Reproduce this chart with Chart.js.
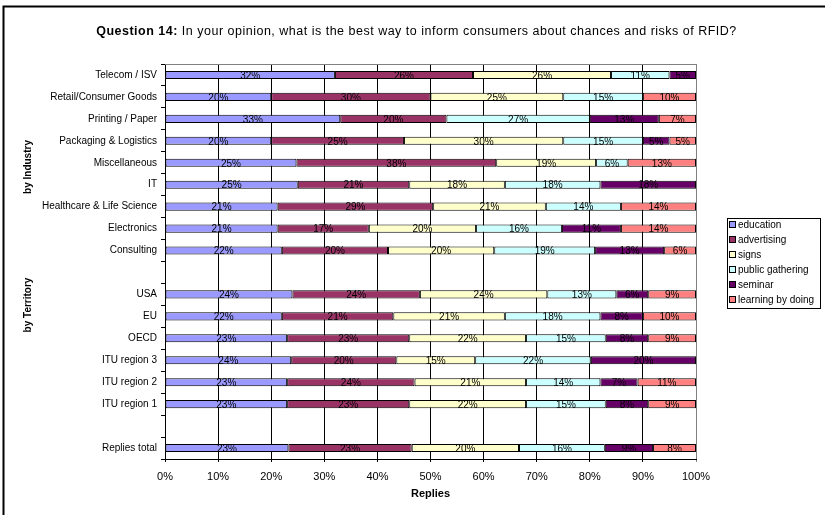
<!DOCTYPE html>
<html>
<head>
<meta charset="utf-8">
<script src="https://cdn.jsdelivr.net/npm/chart.js@4/dist/chart.umd.min.js"></script>
<style>
  html, body { margin: 0; padding: 0; background: #fff; }
  #wrap { position: relative; width: 825px; height: 515px; }
</style>
</head>
<body>
<div id="wrap"><canvas id="myChart" width="825" height="515"></canvas></div>
<script>
// rows, top to bottom ('' = empty spacer row)
var categories = ['Telecom / ISV', 'Retail/Consumer Goods', 'Printing / Paper', 'Packaging & Logistics',
    'Miscellaneous', 'IT', 'Healthcare & Life Science', 'Electronics', 'Consulting', '',
    'USA', 'EU', 'OECD', 'ITU region 3', 'ITU region 2', 'ITU region 1', '', 'Replies total'];

// share of replies in %, as printed on the bars
var education       = [32, 20, 33, 20, 25, 25, 21, 21, 22, null, 24, 22, 23, 24, 23, 23, null, 23];
var advertising     = [26, 30, 20, 25, 38, 21, 29, 17, 20, null, 24, 21, 23, 20, 24, 23, null, 23];
var signs           = [26, 25, 0, 30, 19, 18, 21, 20, 20, null, 24, 21, 22, 15, 21, 22, null, 20];
var publicGathering = [11, 15, 27, 15, 6, 18, 14, 16, 19, null, 13, 18, 15, 22, 14, 15, null, 16];
var seminar         = [5, 0, 13, 5, 0, 18, 0, 11, 13, null, 6, 8, 8, 20, 7, 8, null, 9];
var learningByDoing = [0, 10, 7, 5, 13, 0, 14, 14, 6, null, 9, 10, 9, 0, 11, 9, null, 8];

var seriesNames = ['education', 'advertising', 'signs', 'public gathering', 'seminar', 'learning by doing'];
var seriesColors = ['#9999FF', '#993366', '#FFFFCC', '#CCFFFF', '#660066', '#FF8080'];
var xTicks = [0, 10, 20, 30, 40, 50, 60, 70, 80, 90, 100];

var titleBold = 'Question 14:';
var titleText = ' In your opinion, what is the best way to inform consumers about chances and risks of RFID?';
var groupLabels = ['by Industry', 'by Territory'];
var xTitle = 'Replies';

var FONT = '"Liberation Sans", Arial, sans-serif';

var allSeries = [education, advertising, signs, publicGathering, seminar, learningByDoing];

// row totals, so every bar fills 100%
var totals = categories.map(function(c, i) {
    var s = 0;
    allSeries.forEach(function(arr) { if (arr[i]) s += arr[i]; });
    return s;
});

var dataSets = allSeries.map(function(arr, k) {
    return {
        label: seriesNames[k],
        data: arr.map(function(v, i) { return v ? v / totals[i] * 100 : null; }),
        pct: arr,
        backgroundColor: seriesColors[k],
        borderColor: '#000',
        borderWidth: 1,
        borderSkipped: false,
        barPercentage: 0.37,
        categoryPercentage: 1
    };
});

// percent text in the middle of every segment
var barLabels = {
    id: 'barLabels',
    afterDatasetsDraw: function(chart) {
        var ctx = chart.ctx;
        ctx.save();
        ctx.font = '10px ' + FONT;
        ctx.fillStyle = '#000';
        ctx.textAlign = 'center';
        ctx.textBaseline = 'middle';
        chart.data.datasets.forEach(function(ds, d) {
            var meta = chart.getDatasetMeta(d);
            meta.data.forEach(function(el, i) {
                if (!ds.pct[i]) return;
                ctx.fillText(ds.pct[i] + '%', (el.x + el.base) / 2, el.y + 1);
            });
        });
        ctx.restore();
    }
};

// frame, title, group labels, axis title and legend
var extras = {
    id: 'extras',
    beforeDraw: function(chart) {
        var ctx = chart.ctx;
        ctx.save();
        ctx.fillStyle = '#fff';
        ctx.fillRect(0, 0, chart.width, chart.height);
        ctx.strokeStyle = '#000';
        ctx.lineWidth = 2;
        ctx.beginPath();
        ctx.moveTo(3.5, chart.height);
        ctx.lineTo(3.5, 6.5);
        ctx.lineTo(chart.width, 6.5);
        ctx.stroke();
        ctx.restore();
    },
    afterDraw: function(chart) {
        var ctx = chart.ctx;
        var a = chart.chartArea;
        ctx.save();
        // plot top border
        ctx.strokeStyle = '#808080';
        ctx.lineWidth = 1;
        ctx.beginPath();
        ctx.moveTo(a.left, Math.round(a.top) + 0.5);
        ctx.lineTo(a.right, Math.round(a.top) + 0.5);
        ctx.stroke();

        // title (bold lead-in + regular text), a bit spaced out like the original
        ctx.fillStyle = '#000';
        ctx.textBaseline = 'middle';
        ctx.letterSpacing = '0.5px';
        ctx.font = 'bold 12.5px ' + FONT;
        var w1 = ctx.measureText(titleBold).width;
        ctx.font = '12.5px ' + FONT;
        var w2 = ctx.measureText(titleText).width;
        var tx = 416.5 - (w1 + w2) / 2;
        ctx.textAlign = 'left';
        ctx.font = 'bold 12.5px ' + FONT;
        ctx.fillText(titleBold, tx, 32);
        ctx.font = '12.5px ' + FONT;
        ctx.fillText(titleText, tx + w1, 32);
        ctx.letterSpacing = '0px';

        // rotated group labels
        ctx.font = 'bold 10px ' + FONT;
        ctx.textAlign = 'center';
        [[groupLabels[0], 167], [groupLabels[1], 305]].forEach(function(g) {
            ctx.save();
            ctx.translate(28, g[1]);
            ctx.rotate(-Math.PI / 2);
            ctx.fillText(g[0], 0, 0);
            ctx.restore();
        });

        // x axis title
        ctx.font = 'bold 11px ' + FONT;
        ctx.fillText(xTitle, (a.left + a.right) / 2, 494);

        // legend
        ctx.strokeStyle = '#000';
        ctx.lineWidth = 1;
        ctx.strokeRect(727.5, 218.5, 93, 90);
        ctx.font = '10px ' + FONT;
        ctx.textAlign = 'left';
        seriesNames.forEach(function(name, k) {
            var y = 225 + k * 15;
            ctx.fillStyle = seriesColors[k];
            ctx.fillRect(729.5, y - 3.5, 6, 6);
            ctx.strokeRect(729.5, y - 3.5, 6, 6);
            ctx.fillStyle = '#000';
            ctx.fillText(name, 738, y + 0.5);
        });
        ctx.restore();
    }
};

var ctx = document.getElementById('myChart').getContext('2d');
var myChart = new Chart(ctx, {
    type: 'bar',
    data: {
        labels: categories,
        datasets: dataSets
    },
    options: {
        indexAxis: 'y',
        responsive: false,
        maintainAspectRatio: false,
        animation: false,
        layout: { padding: { top: 64, right: 129, bottom: 0, left: 0 } },
        plugins: {
            legend: { display: false },
            title: { display: false },
            tooltip: { enabled: false }
        },
        scales: {
            x: {
                stacked: true,
                min: 0,
                max: 100,
                afterBuildTicks: function(scale) {
                    scale.ticks = xTicks.map(function(v) { return { value: v }; });
                },
                afterFit: function(scale) { scale.height = 56; },
                grid: {
                    color: function(c) { return c.tick && c.tick.value === 100 ? '#808080' : '#000'; },
                    tickLength: 3,
                    lineWidth: 1
                },
                border: { color: '#000', width: 1 },
                ticks: {
                    font: { family: FONT, size: 11 },
                    color: '#000',
                    padding: 8,
                    maxRotation: 0,
                    callback: function(v) { return v + '%'; }
                }
            },
            y: {
                stacked: true,
                afterFit: function(scale) { scale.width = 165; },
                grid: {
                    offset: true,
                    drawOnChartArea: false,
                    tickLength: 4,
                    color: '#000'
                },
                border: { color: '#000', width: 1 },
                ticks: {
                    font: { family: FONT, size: 10 },
                    color: '#000',
                    padding: 4,
                    autoSkip: false
                }
            }
        }
    },
    plugins: [barLabels, extras]
});
</script>
</body>
</html>
